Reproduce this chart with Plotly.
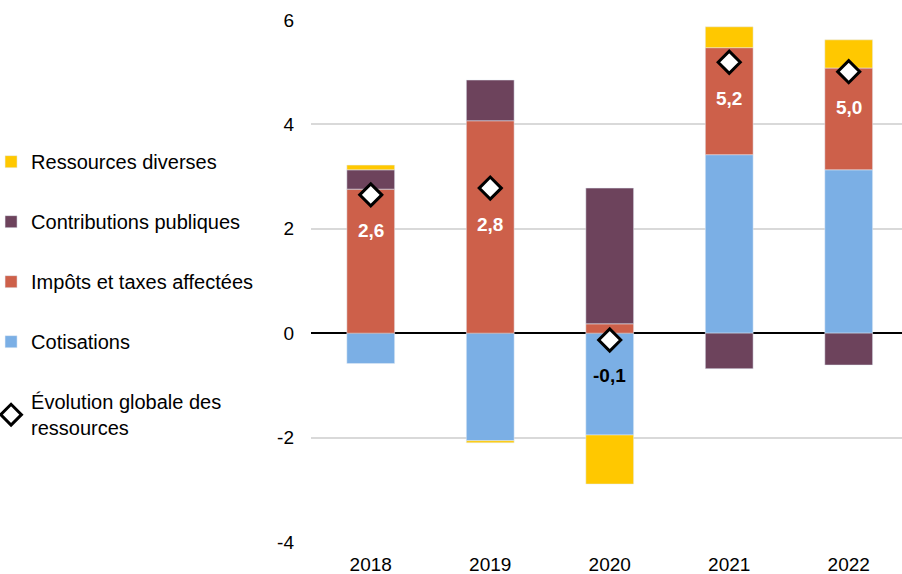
import plotly.graph_objects as go

years = ["2018", "2019", "2020", "2021", "2022"]
cotisations = [-0.58, -2.06, -1.95, 3.42, 3.13]
impots = [2.76, 4.07, 0.18, 2.05, 1.95]
contributions = [0.37, 0.78, 2.60, -0.68, -0.61]
diverses = [0.09, -0.04, -0.94, 0.40, 0.54]
evolution = [2.65, 2.78, -0.13, 5.19, 5.01]
evo_labels = ["2,6", "2,8", "-0,1", "5,2", "5,0"]
label_colors = ["white", "white", "black", "white", "white"]
y_ticks = [-4, -2, 0, 2, 4, 6]
y_tick_text = ["-4", "-2", "0", "2", "4", "6"]

FONT = "Arial, Liberation Sans, sans-serif"
C_COT = "#7BAFE5"
C_IMP = "#CD604A"
C_CON = "#6D435C"
C_DIV = "#FFC800"

fig = go.Figure()
fig.add_trace(go.Bar(x=years, y=cotisations, name="Cotisations", marker_color=C_COT,
                     legendrank=4, legendgroup="g4"))
fig.add_trace(go.Bar(x=years, y=impots, name="Impôts et taxes affectées", marker_color=C_IMP,
                     legendrank=3, legendgroup="g3"))
fig.add_trace(go.Bar(x=years, y=contributions, name="Contributions publiques", marker_color=C_CON,
                     legendrank=2, legendgroup="g2"))
fig.add_trace(go.Bar(x=years, y=diverses, name="Ressources diverses", marker_color=C_DIV,
                     legendrank=1, legendgroup="g1"))
fig.add_trace(go.Scatter(x=years, y=evolution, mode="markers",
                         name="Évolution globale des<br>ressources",
                         marker=dict(symbol="diamond", size=17, color="white",
                                     line=dict(color="black", width=3)),
                         legendrank=5, legendgroup="g5"))

for i, (y, t, c) in enumerate(zip(evolution, evo_labels, label_colors)):
    fig.add_annotation(x=i, y=y, xref="x", yref="y", text=f"<b>{t}</b>", showarrow=False,
                       yshift=-36, font=dict(family=FONT, size=19, color=c))

fig.update_layout(
    width=902, height=574,
    barmode="relative", bargap=0.6,
    plot_bgcolor="white", paper_bgcolor="white",
    margin=dict(l=311, r=0, t=20, b=32, autoexpand=False),
    font=dict(family=FONT, size=19, color="black"),
    showlegend=True,
    legend=dict(x=-0.5312, xanchor="left", y=0.766, yanchor="top",
                tracegroupgap=31, traceorder="grouped", indentation=-6,
                font=dict(family=FONT, size=20, color="black"),
                bgcolor="rgba(0,0,0,0)"),
)
fig.update_xaxes(type="category", range=[-0.5, 4.446], showgrid=False, showline=False,
                 automargin=False, ticks="", ticklabelstandoff=9, tickfont=dict(size=19))
fig.update_yaxes(range=[-4, 6], tickvals=y_ticks, ticktext=y_tick_text, automargin=False,
                 showgrid=True, gridcolor="#D9D9D9", gridwidth=1.5,
                 zeroline=True, zerolinecolor="black", zerolinewidth=1.5, showline=False,
                 ticks="", ticklabelstandoff=16, tickfont=dict(size=19))

fig.write_html("out.html", config={"displayModeBar": False},
               post_script="document.body.style.margin='0';document.body.style.overflow='hidden';")
